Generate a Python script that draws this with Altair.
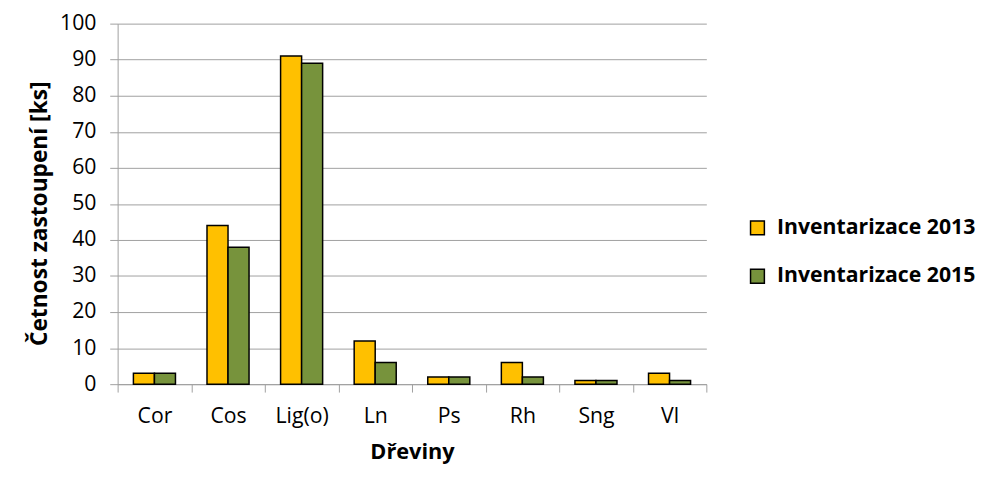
import altair as alt
import pandas as pd

categories = ["Cor", "Cos", "Lig(o)", "Ln", "Ps", "Rh", "Sng", "Vl"]
series_names = ["Inventarizace 2013", "Inventarizace 2015"]
values_2013 = [3, 44, 91, 12, 2, 6, 1, 3]
values_2015 = [3, 38, 89, 6, 2, 2, 1, 1]
colors = ["#FFC000", "#77933C"]

rows = []
for c, a, b in zip(categories, values_2013, values_2015):
    rows.append({"Dreviny": c, "Serie": series_names[0], "Hodnota": a})
    rows.append({"Dreviny": c, "Serie": series_names[1], "Hodnota": b})
df = pd.DataFrame(rows)

FONT = "Open Sans"

chart = alt.Chart(df).mark_bar(stroke="black", strokeWidth=1.5).encode(
    x=alt.X("Dreviny:N", sort=categories,
            scale=alt.Scale(paddingInner=0, paddingOuter=0),
            axis=alt.Axis(title="Dřeviny", tickBand="extent", labelAngle=0,
                          labelFontSize=21.5, labelColor="black", labelFont=FONT,
                          titleFontSize=22, titleFont=FONT, titleFontWeight="bold",
                          titleColor="black", titlePadding=15,
                          domainColor="#A0A0A0", tickColor="#A0A0A0",
                          tickSize=8, labelPadding=14, grid=False)),
    xOffset=alt.XOffset("Serie:N", sort=series_names,
                        scale=alt.Scale(paddingInner=0, paddingOuter=0.75)),
    y=alt.Y("Hodnota:Q",
            scale=alt.Scale(domain=[0, 100]),
            axis=alt.Axis(title="Četnost zastoupení [ks]", values=list(range(0, 101, 10)),
                          labelFontSize=21.5, labelColor="black", labelFont=FONT,
                          titleFontSize=23, titleFont=FONT, titleFontWeight="bold",
                          titleColor="black", titlePadding=8, titleY=192,
                          domainColor="#A0A0A0", tickColor="#A0A0A0",
                          tickSize=8, labelPadding=14,
                          grid=True, gridColor="#A0A0A0", gridWidth=1)),
    color=alt.Color("Serie:N", sort=series_names,
                    scale=alt.Scale(domain=series_names, range=colors),
                    legend=alt.Legend(title=None, orient="none", legendX=637, legendY=196,
                                      symbolType="square", symbolSize=196,
                                      symbolStrokeColor="black", symbolStrokeWidth=1.5,
                                      labelFontSize=21.5, labelFont=FONT,
                                      labelFontWeight="bold", labelColor="black",
                                      labelOffset=9, rowPadding=26, labelLimit=400)),
).properties(
    width=596, height=365,
    padding={"left": 21, "top": 2, "right": 0, "bottom": 0}
).configure_view(
    stroke=None
)

chart.save("out.html", embed_options={"renderer": "svg", "actions": False})
